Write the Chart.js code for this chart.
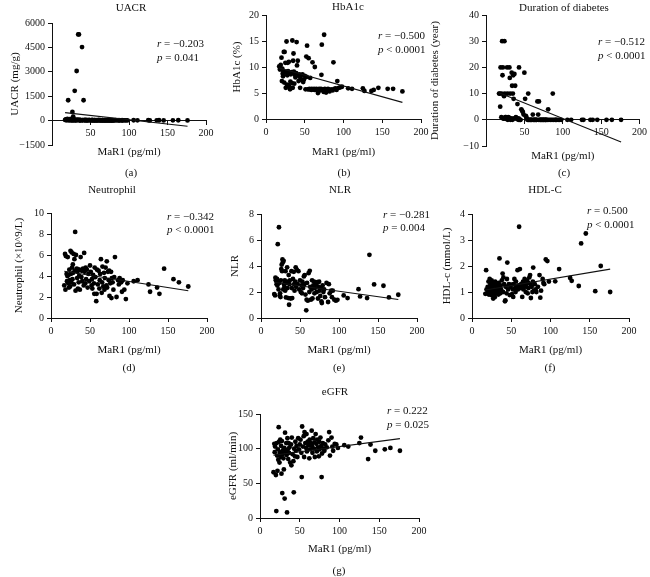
<!DOCTYPE html>
<html>
<head>
<meta charset="utf-8">
<script src="https://cdn.jsdelivr.net/npm/chart.js@4.4.0/dist/chart.umd.min.js"></script>
<style>
  html, body { margin: 0; padding: 0; background: #fff; }
  #fig { position: relative; width: 650px; height: 577px; overflow: hidden; font-family: "Liberation Serif", "DejaVu Serif", serif; color: #111; }
  #fig canvas { position: absolute; left: 0; top: 0; }
  .t { position: absolute; white-space: nowrap; font-size: 11px; line-height: 13px; transform: translate(-50%, -50%); }
  .s { position: absolute; white-space: nowrap; font-size: 11px; line-height: 13px; transform: translateY(-50%); }
</style>
</head>
<body>
<div id="fig"></div>
<script>
// MaR1 (pg/ml), shared by all panels
var mar1 = [
  17, 18, 18.5, 19, 20, 20.5, 21, 21.5, 22, 22.5,
  23, 23.5, 24, 24.5, 25, 25.5, 26, 26.5, 27, 27.5,
  28, 28.5, 29, 29.5, 30, 30.5, 31, 31.5, 32, 33,
  33.5, 34, 34.5, 35, 35.5, 36, 36.5, 37, 38, 39,
  39.5, 40, 41, 42, 42.5, 43, 44, 44.5, 45, 46,
  47, 48, 49, 50, 51, 52, 52.5, 53, 54, 55,
  55.5, 56, 57, 58, 58.5, 59, 60, 61, 62, 62.5,
  63, 64, 65, 65.5, 66, 67, 68, 68.5, 69, 70,
  71, 71.5, 72, 73, 74, 74.5, 75, 76, 77, 77.5,
  78, 79, 80, 81, 82, 84, 86, 87, 88, 90,
  91, 92, 94, 96, 98, 106, 111, 125, 127, 136,
  139, 145, 157, 164, 176
];

var uacr = [
  40, 80, 20, 60, 110, 30, 1250, 70, 15, 50,
  90, 25, 40, 60, 20, 100, 35, 530, 10, 250,
  45, 20, 70, 1830, 30, 15, 55, 20, 3050, 40,
  25, 5300, 60, 5300, 15, 35, 20, 50, 10, 4520,
  30, 20, 1250, 40, 15, 25, 50, 10, 30, 20,
  15, 40, 25, 10, 30, 20, 45, 15, 10, 35,
  20, 10, 25, 15, 30, 10, 20, 40, 15, 10,
  25, 15, 10, 30, 20, 10, 15, 25, 10, 20,
  15, 10, 30, 20, 10, 15, 25, 10, 20, 15,
  10, 20, 15, 10, 25, 15, 10, 20, 15, 10,
  20, 15, 10, 15, 10, 20, 15, 25, 10, 15,
  20, 10, 15, 20, 10
];

var hba1c = [
  10.1, 9.5, 9.8, 10.4, 11.8, 7.3, 9.7, 8.7, 8.2, 9.2,
  12.9, 7.0, 12.9, 8.9, 10.8, 6.0, 9.1, 14.9, 6.6, 8.4,
  10.8, 9.2, 6.5, 11.0, 6.2, 8.8, 5.7, 7.2, 8.6, 9.0,
  6.9, 15.1, 6.0, 11.2, 12.6, 9.1, 6.8, 8.5, 8.0, 8.8,
  14.8, 10.3, 11.2, 7.3, 8.3, 8.6, 6.0, 7.8, 8.4, 7.5,
  8.6, 7.1, 7.6, 8.3, 5.7, 12.0, 8.1, 14.1, 5.7, 11.7,
  5.7, 5.8, 7.9, 5.7, 5.6, 5.8, 10.9, 5.7, 5.8, 5.6,
  10.0, 5.7, 5.8, 5.6, 5.7, 5.0, 5.3, 5.8, 5.6, 5.7,
  5.8, 8.5, 14.3, 5.5, 5.7, 5.2, 16.2, 5.8, 5.6, 5.1,
  5.7, 5.4, 5.8, 5.6, 5.3, 5.7, 5.5, 10.9, 5.8, 5.9,
  5.6, 7.3, 6.0, 6.1, 6.2, 5.9, 5.8, 5.9, 5.4, 5.4,
  5.6, 6.0, 5.8, 5.8, 5.3
];

var duration = [
  10, 10, 5, 20, 1, 10, 30, 17, 20, 0.5,
  0.5, 9, 30, 10, 1, 0.5, 1, 0.3, 0.5, 20,
  10, 0, 1, 0.5, 0.8, 20, 16, 10, 0, 0.5,
  18, 13, 0, 10, 17, 8, 0.5, 17.5, 13, 1,
  0.5, 0.5, 6, 0, 0.5, 20, 0, 0, 0, 4,
  3.5, 3, 2, 18, 8, 1.5, 1, 0.5, 0, 10,
  0, 0, 0, 0, 0, 0, 0, 2, 0, 0,
  0, 0, 0, 0, 0, 7, 2, 0, 7, 0,
  0, 0, 0, 0, 0, 0, 0, 0, 0, 0,
  0, 0, 0, 4, 0, 0, 0, 10, 0, 0,
  0, 0, 0, 0, 0, 0, 0, 0, 0, 0,
  0, 0, 0, 0, 0
];

var neutrophil = [
  3.1, 6.1, 2.7, 5.9, 4.2, 3.5, 4.0, 5.8, 3.3, 4.1,
  2.9, 4.6, 3.6, 3.0, 6.4, 4.2, 3.4, 6.25, 4.8, 3.7,
  5.1, 4.3, 6.1, 3.2, 5.6, 4.5, 8.2, 2.6, 6.0, 4.7,
  3.8, 4.4, 2.8, 4.6, 3.4, 4.0, 4.6, 2.7, 5.8, 3.9,
  4.5, 3.5, 4.7, 3.1, 6.2, 4.4, 3.3, 4.8, 3.7, 4.6,
  2.9, 4.2, 3.5, 5.0, 4.4, 3.1, 3.7, 2.8, 4.1, 3.3,
  2.3, 4.8, 3.9, 1.6, 2.3, 4.6, 3.2, 4.5, 2.8, 3.6,
  4.2, 5.6, 2.4, 3.4, 4.9, 3.0, 4.3, 2.7, 3.8, 4.8,
  3.1, 5.4, 2.9, 4.4, 3.6, 4.5, 2.1, 3.3, 4.4, 1.9,
  3.8, 3.4, 2.7, 3.9, 5.8, 2.0, 3.6, 3.2, 3.8, 3.4,
  2.5, 3.6, 2.7, 1.8, 3.3, 3.5, 3.6, 3.2, 2.5, 2.9,
  2.3, 4.7, 3.7, 3.4, 3.0
];

var nlr = [
  1.84, 1.74, 3.1, 2.9, 2.6, 3.0, 2.5, 5.68, 2.8, 2.2,
  6.98, 2.7, 1.71, 1.9, 1.61, 2.9, 3.76, 4.1, 3.6, 4.5,
  4.27, 2.2, 4.4, 2.6, 2.4, 2.9, 2.1, 3.6, 1.58, 2.7,
  3.9, 2.3, 2.8, 1.53, 3.3, 1.02, 2.6, 2.9, 1.5, 3.6,
  2.3, 1.53, 3.0, 3.55, 2.6, 2.1, 2.8, 3.9, 2.4, 3.7,
  2.6, 3.6, 2.2, 2.9, 2.0, 2.5, 1.9, 2.8, 2.3, 3.2,
  2.6, 3.3, 1.8, 0.59, 1.41, 2.7, 1.33, 3.45, 2.0, 3.63,
  2.4, 1.41, 2.2, 2.9, 1.5, 2.5, 2.8, 1.9, 2.3, 2.7,
  2.56, 2.0, 2.76, 1.5, 2.4, 2.79, 2.1, 1.7, 2.3, 1.28,
  1.15, 2.5, 2.0, 2.2, 1.6, 2.7, 1.23, 2.6, 1.9, 2.1,
  1.6, 2.1, 1.41, 1.33, 1.4, 1.74, 1.53, 2.22, 1.66, 1.53,
  4.86, 2.58, 2.48, 1.58, 1.79
];

var hdl = [
  0.93, 1.84, 1.1, 0.95, 1.2, 1.05, 1.4, 0.9, 1.15, 1.5,
  1.0, 1.3, 1.1, 0.88, 1.45, 1.2, 0.98, 1.35, 0.75, 1.05,
  0.84, 1.25, 0.8, 1.4, 1.1, 0.95, 1.3, 1.15, 1.0, 1.2,
  0.9, 1.35, 1.05, 2.29, 1.2, 0.95, 1.25, 1.1, 1.45, 1.71,
  1.0, 1.56, 1.3, 0.64, 0.68, 1.2, 0.95, 1.5, 2.13, 1.1,
  1.3, 0.88, 1.2, 1.28, 0.92, 1.1, 0.81, 1.3, 1.5, 1.15,
  1.0, 1.4, 1.2, 1.84, 1.1, 1.25, 3.51, 1.88, 1.15, 1.3,
  1.2, 0.81, 1.4, 1.1, 1.25, 1.5, 1.3, 1.0, 1.2, 1.45,
  0.95, 1.35, 1.15, 1.56, 1.65, 1.3, 0.77, 1.2, 1.0, 1.4,
  1.94, 1.05, 1.3, 1.1, 1.0, 1.2, 1.65, 0.78, 1.05, 1.5,
  1.35, 1.3, 2.25, 2.19, 1.4, 1.41, 1.88, 1.54, 1.43, 1.23,
  2.87, 3.25, 1.03, 2.0, 1.0
];

var egfr = [
  66, 107, 95, 103, 62, 10, 108, 90, 68, 99,
  84, 131, 110, 80, 95, 113, 88, 104, 64, 111,
  36, 92, 98, 86, 70, 101, 28, 123, 96, 108,
  91, 8, 115, 99, 85, 108, 94, 102, 80, 106,
  76, 116, 92, 82, 37, 100, 89, 110, 97, 104,
  88, 115, 99, 106, 113, 94, 59, 132, 103, 118,
  88, 124, 108, 101, 121, 96, 110, 105, 86, 113,
  99, 108, 126, 104, 94, 115, 100, 109, 88, 121,
  107, 96, 113, 102, 89, 110, 99, 116, 104, 59,
  93, 108, 100, 97, 106, 102, 112, 124, 90, 116,
  103, 97, 107, 106, 101, 105, 103, 108, 116, 85,
  106, 97, 99, 101, 97
];

// fitted regression lines, [MaR1, value] at both ends
var fitUacr = [[17, 490], [176, -350]];
var fitHba1c = [[17, 9.8], [176, 3.2]];
var fitDuration = [[17, 10.3], [176, -8.5]];
var fitNeutrophil = [[17, 4.45], [176, 2.6]];
var fitNlr = [[17, 2.75], [176, 1.42]];
var fitHdl = [[17, 1.08], [176, 1.88]];
var fitEgfr = [[17, 90.5], [176, 114.5]];

var stats = [
  ["r = −0.203", "p = 0.041"],
  ["r = −0.500", "p < 0.0001"],
  ["r = −0.512", "p < 0.0001"],
  ["r = −0.342", "p < 0.0001"],
  ["r = −0.281", "p = 0.004"],
  ["r = 0.500", "p < 0.0001"],
  ["r = 0.222", "p = 0.025"]
];

var panels = [
  {title: "UACR", ytitle: "UACR (mg/g)", y: uacr, fit: fitUacr, ymin: -1500, ymax: 6000, step: 1500, zeroX: true,
   axisX: 52, top: 23, bottom: 145, right: 206, ytx: 15, xtOff: 32, tt: [131, 7], st: [157, 43, 57], cap: ["(a)", 131, 172]},
  {title: "HbA1c", ytitle: "HbA1c (%)", y: hba1c, fit: fitHba1c, ymin: 0, ymax: 20, step: 5,
   axisX: 266, top: 15, bottom: 119, right: 421, ytx: 237, xtOff: 33, tt: [348, 6], st: [378, 35, 49], cap: ["(b)", 344, 172]},
  {title: "Duration of diabetes", ytitle: "Duration of diabetes (year)", y: duration, fit: fitDuration, ymin: -10, ymax: 40, step: 10, zeroX: true,
   axisX: 486, top: 15, bottom: 146, right: 641, ytx: 435, xtOff: 36, tt: [564, 7], st: [598, 41, 55], cap: ["(c)", 564, 172]},
  {title: "Neutrophil", ytitle: "Neutrophil (×10^9/L)", y: neutrophil, fit: fitNeutrophil, ymin: 0, ymax: 10, step: 2,
   axisX: 51, top: 213, bottom: 318, right: 207, ytx: 19, xtOff: 32, tt: [112, 189], st: [167, 216, 229], cap: ["(d)", 129, 367]},
  {title: "NLR", ytitle: "NLR", y: nlr, fit: fitNlr, ymin: 0, ymax: 8, step: 2,
   axisX: 261, top: 214, bottom: 318, right: 417, ytx: 235, xtOff: 32, tt: [340, 189], st: [383, 214, 227], cap: ["(e)", 339, 367]},
  {title: "HDL-C", ytitle: "HDL-c (mmol/L)", y: hdl, fit: fitHdl, ymin: 0, ymax: 4, step: 1,
   axisX: 472, top: 214, bottom: 318, right: 629, ytx: 447, xtOff: 32, tt: [545, 189], st: [587, 210, 224], cap: ["(f)", 550, 367]},
  {title: "eGFR", ytitle: "eGFR (ml/min)", y: egfr, fit: fitEgfr, ymin: 0, ymax: 150, step: 50,
   axisX: 260, top: 414, bottom: 518, right: 419, ytx: 233, xtOff: 31, tt: [335, 391], st: [387, 410, 424], cap: ["(g)", 339, 570]}
];

var FONT = "'Liberation Serif', 'DejaVu Serif', serif";
var XH = 40;
var fig = document.getElementById("fig");

function addText(cls, html, x, y) {
  var d = document.createElement("div");
  d.className = cls;
  d.innerHTML = html;
  d.style.left = x + "px";
  d.style.top = y + "px";
  fig.appendChild(d);
}

function fmt(v) {
  return String(v).replace("-", "−");
}

panels.forEach(function (p, k) {
  var cv = document.createElement("canvas");
  cv.width = 650;
  cv.height = 577;
  fig.appendChild(cv);

  var L = p.ytx - 8;
  var padBottom = p.zeroX ? 577 - p.bottom : 577 - p.bottom - XH;
  var pts = mar1.map(function (x, i) { return {x: x, y: p.y[i]}; });
  var line = p.fit.map(function (d) { return {x: d[0], y: d[1]}; });

  var axisCommon = {
    grid: {display: true, drawOnChartArea: false, drawTicks: true, tickLength: 4, color: "#111", lineWidth: 1},
    border: {display: true, color: "#111", width: 1}
  };

  new Chart(cv, {
    type: "scatter",
    data: {
      datasets: [
        {data: line, showLine: true, borderColor: "#111", borderWidth: 1.1, pointRadius: 0, fill: false},
        {data: pts, pointRadius: 2.4, pointBackgroundColor: "#000", pointBorderWidth: 0, backgroundColor: "#000"}
      ]
    },
    options: {
      responsive: false,
      animation: false,
      events: [],
      layout: {padding: {left: L, top: p.top, right: 650 - p.right, bottom: padBottom}},
      plugins: {legend: {display: false}, tooltip: {enabled: false}},
      scales: {
        x: Object.assign({}, axisCommon, {
          type: "linear",
          min: 0, max: 200,
          position: p.zeroX ? {y: 0} : "bottom",
          afterFit: function (s) { s.height = XH; },
          ticks: {
            stepSize: 50, padding: 3, color: "#111", font: {family: FONT, size: 10},
            callback: function (v) { return (p.zeroX && v === 0) ? "" : fmt(v); }
          },
          title: {display: true, text: "MaR1 (pg/ml)", color: "#111", font: {family: FONT, size: 11},
                  padding: {top: 0, bottom: XH - 6.6 - p.xtOff}}
        }),
        y: Object.assign({}, axisCommon, {
          type: "linear",
          min: p.ymin, max: p.ymax,
          afterFit: function (s) { s.width = p.axisX - L; },
          ticks: {stepSize: p.step, padding: 3, color: "#111", font: {family: FONT, size: 10}, callback: fmt},
          title: {display: true, text: p.ytitle, color: "#111", font: {family: FONT, size: 11},
                  padding: {top: 1.4, bottom: 0}}
        })
      }
    }
  });

  addText("t", p.title, p.tt[0], p.tt[1]);
  addText("t", p.cap[0], p.cap[1], p.cap[2]);
  var st = stats[k];
  addText("s", "<i>r</i>" + st[0].slice(1), p.st[0], p.st[1]);
  addText("s", "<i>p</i>" + st[1].slice(1), p.st[0], p.st[2]);
});
</script>
</body>
</html>
